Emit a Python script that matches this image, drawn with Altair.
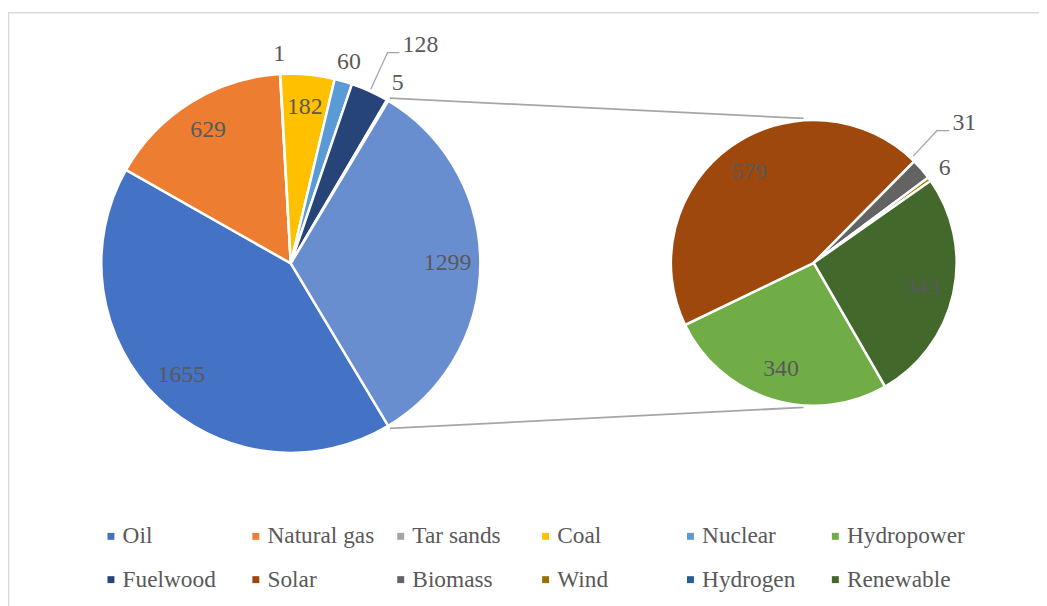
import math
import altair as alt
import pandas as pd

# ---------------- data ----------------
main_cats = ["Oil", "Natural gas", "Tar sands", "Coal", "Nuclear", "Fuelwood", "Hydrogen", "Other"]
main_vals = [1655, 629, 1, 182, 60, 128, 5, 1299]
sec_cats = ["Hydropower", "Solar", "Biomass", "Wind", "Renewable"]
sec_vals = [340, 579, 31, 6, 343]
legend_order = ["Oil", "Natural gas", "Tar sands", "Coal", "Nuclear", "Hydropower",
                "Fuelwood", "Solar", "Biomass", "Wind", "Hydrogen", "Renewable"]
color_map = {
    "Oil": "#4472C4", "Natural gas": "#ED7D31", "Tar sands": "#A5A5A5", "Coal": "#FFC000",
    "Nuclear": "#5B9BD5", "Hydropower": "#70AD47", "Fuelwood": "#264478", "Solar": "#9E480E",
    "Biomass": "#636363", "Wind": "#997300", "Hydrogen": "#255E91", "Renewable": "#43682B",
    "Other": "#698ED0",
}
main_inside = ["Oil", "Natural gas", "Coal", "Other"]
main_outside = ["Tar sands", "Nuclear", "Hydrogen"]
sec_inside = ["Hydropower", "Solar", "Renewable"]

FONT = "Times New Roman, Liberation Serif, DejaVu Serif, serif"
LABEL_COLOR = "#595959"
GRAY = "#A6A6A6"

main_df = pd.DataFrame({"cat": main_cats, "val": main_vals, "idx": list(range(len(main_cats)))})
sec_df = pd.DataFrame({"cat": sec_cats, "val": sec_vals, "idx": list(range(len(sec_cats)))})
main_total = sum(main_vals)
sec_total = sum(sec_vals)

# ---------------- layout ----------------
W, H = 1039, 598
CX1, CY1, R1 = 285, 255, 191
CX2, CY2, R2 = 812, 254.5, 144
other_frac = main_vals[-1] / main_total
main_start = 90 + 180 * other_frac       # "Other" slice centred at 3 o'clock
sec_start = 150

color_scale = alt.Scale(domain=list(color_map.keys()), range=list(color_map.values()))
legend = alt.Legend(
    values=legend_order, orient="none", legendX=92, legendY=518, columns=6,
    direction="horizontal",
    columnPadding=3, rowPadding=19, symbolType="square", symbolSize=49,
    symbolStrokeWidth=0, labelOffset=0, title=None, gridAlign="all", padding=0,
    labelFont=FONT, labelFontSize=23.5, labelColor=LABEL_COLOR, labelLimit=300,
)


def pie(df, total, start_deg, cx, cy, r):
    sc = alt.Scale(domain=[0, total],
                   range=[math.radians(start_deg), math.radians(start_deg) + 2 * math.pi])
    b = alt.Chart(df).transform_window(
        cum="sum(val)", sort=[alt.SortField("idx")], frame=[None, 0]
    ).transform_calculate(
        start="datum.cum - datum.val", mid="datum.cum - datum.val / 2"
    )
    pos = dict(x=alt.value(cx), y=alt.value(cy))
    arc = b.mark_arc(radius=r, stroke="white", strokeWidth=2.5).encode(
        theta=alt.Theta("start:Q", scale=sc), theta2="cum:Q",
        color=alt.Color("cat:N", scale=color_scale, legend=legend), **pos)
    return b, sc, pos, arc


def labels(b, sc, pos, cats, radius, **kw):
    return b.transform_filter(alt.FieldOneOfPredicate(field="cat", oneOf=cats)).mark_text(
        radius=radius, font=FONT, fontSize=24, color=LABEL_COLOR, **kw
    ).encode(theta=alt.Theta("mid:Q", scale=sc), text="val:Q", **pos)


def leader(b, sc, pos, cat, r_in, r_out, off_deg=0.0):
    lead = b.transform_filter(alt.datum.cat == cat).mark_arc(
        radius=r_out, radius2=r_in, stroke=GRAY, strokeWidth=1.3, fillOpacity=0,
        thetaOffset=math.radians(off_deg), theta2Offset=math.radians(off_deg)
    ).encode(theta=alt.Theta("mid:Q", scale=sc), theta2="mid:Q", **pos)
    stub = b.transform_filter(alt.datum.cat == cat).mark_text(
        radius=r_out, align="left", baseline="alphabetic", dx=-0.5, dy=6,
        font=FONT, fontSize=24, color=GRAY, thetaOffset=math.radians(off_deg)
    ).encode(theta=alt.Theta("mid:Q", scale=sc), text=alt.value("\u2013"), **pos)
    lab = b.transform_filter(alt.datum.cat == cat).mark_text(
        radius=r_out, align="left", baseline="middle", dx=15, dy=-7,
        font=FONT, fontSize=24, color=LABEL_COLOR, thetaOffset=math.radians(off_deg)
    ).encode(theta=alt.Theta("mid:Q", scale=sc), text="val:Q", **pos)
    return [lead, stub, lab]


# main pie
b1, sc1, pos1, arc1 = pie(main_df, main_total, main_start, CX1, CY1, R1)
main_layer = alt.layer(
    arc1,
    labels(b1, sc1, pos1, main_inside, 158),
    labels(b1, sc1, pos1, main_outside, 211),
    *leader(b1, sc1, pos1, "Fuelwood", 193, 234),
)

# secondary pie
b2, sc2, pos2, arc2 = pie(sec_df, sec_total, sec_start, CX2, CY2, R2)
sec_layer = alt.layer(
    arc2,
    labels(b2, sc2, pos2, sec_inside, 112),
    labels(b2, sc2, pos2, ["Wind"], 163),
    *leader(b2, sc2, pos2, "Biomass", 147, 183, off_deg=-6),
)

# connector lines between the pies
one = pd.DataFrame({"k": [0]})
a_top = math.radians(90 - 180 * other_frac)
a_bot = math.radians(90 + 180 * other_frac)
RC = 194
p_top = (CX1 + RC * math.sin(a_top), CY1 - RC * math.cos(a_top))
p_bot = (CX1 + RC * math.sin(a_bot), CY1 - RC * math.cos(a_bot))
e_top = (CX2 + 146 * math.sin(math.radians(-4)), CY2 - 146 * math.cos(math.radians(-4)))
e_bot = (CX2 + 146 * math.sin(math.radians(184)), CY2 - 146 * math.cos(math.radians(184)))
conn = [
    alt.Chart(one).mark_rule(color=GRAY, strokeWidth=1.8).encode(
        x=alt.value(p[0]), y=alt.value(p[1]), x2=alt.value(e[0]), y2=alt.value(e[1]))
    for p, e in [(p_top, e_top), (p_bot, e_bot)]
]

frame = alt.Chart(one).mark_rect(fillOpacity=0, stroke="#D9D9D9", strokeWidth=1.5).encode(
    x=alt.value(0.5), y=alt.value(2.5), x2=alt.value(1200), y2=alt.value(800))

chart = alt.layer(frame, *conn, main_layer, sec_layer).resolve_scale(
    theta="independent"
).properties(
    width=W, height=H, padding=0, autosize=alt.AutoSizeParams(type="none")
).configure_view(stroke=None)

chart.save("out.html", embed_options={"renderer": "svg", "actions": False})
